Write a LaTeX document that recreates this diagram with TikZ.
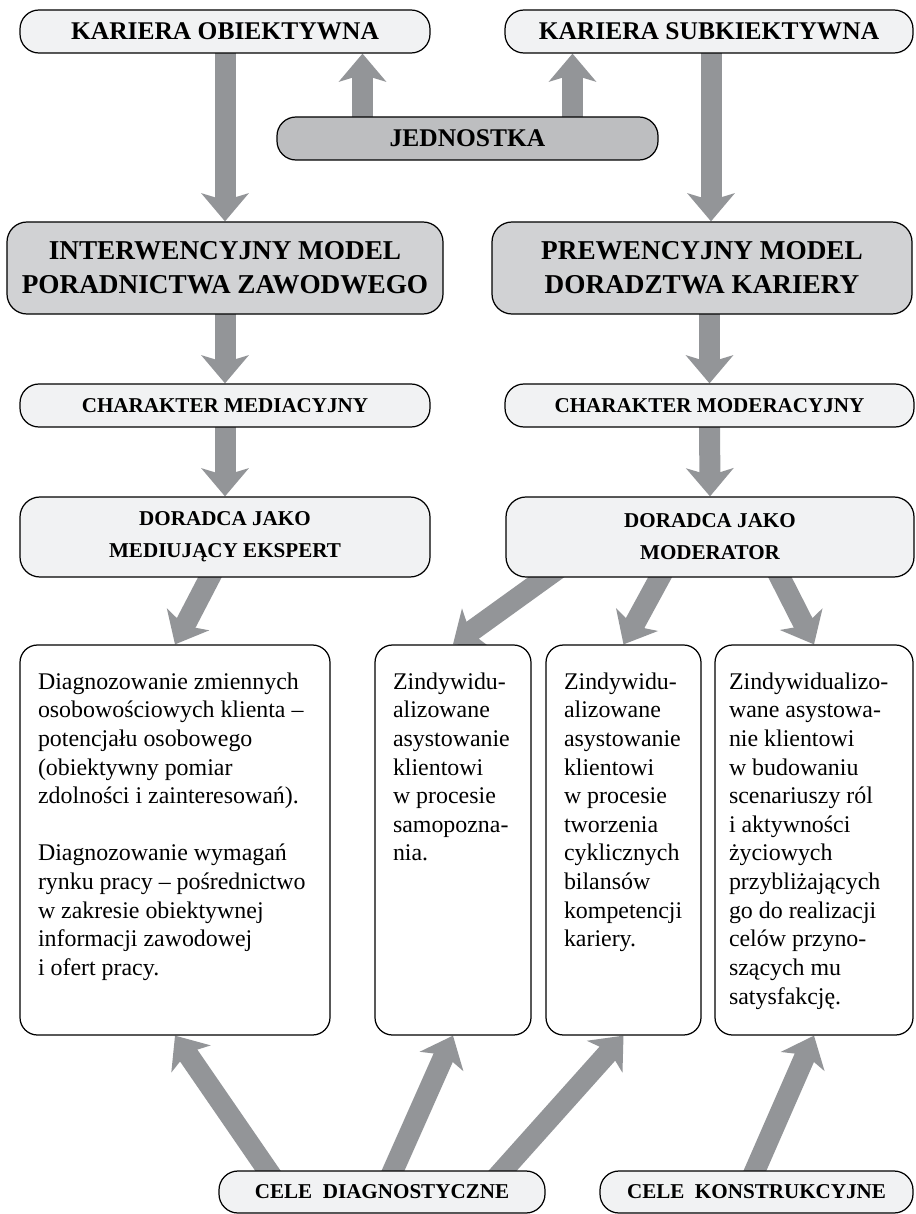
\documentclass[tikz,border=0pt]{standalone}
\usepackage{fontspec}
\setmainfont{Liberation Serif}
\usepackage{xcolor}
\usepackage{tikz}
\usetikzlibrary{positioning, arrows.meta, backgrounds}
\definecolor{arrowgray}{RGB}{147,149,152}
\definecolor{boxlight}{RGB}{241,242,243}
\definecolor{boxmid}{RGB}{209,210,212}
\definecolor{boxdark}{RGB}{189,190,192}

\newcommand{\boxtext}[3]{\parbox[c][#2][t]{#1}{\raggedright #3}}

\begin{document}
\begin{tikzpicture}[
    pill/.style={rectangle, draw=black, line width=0.7pt, fill=boxlight,
                 rounded corners=0.38cm, minimum height=0.86cm, inner sep=0pt,
                 font=\fontsize{14.5}{17}\selectfont\bfseries},
    tag/.style={pill, font=\fontsize{12}{14}\selectfont\bfseries},
    model/.style={rectangle, draw=black, line width=0.7pt, fill=boxmid,
                  rounded corners=0.4cm, minimum height=1.84cm, align=center, inner sep=0pt,
                  font=\fontsize{15.5}{19.3}\selectfont\bfseries},
    role/.style={rectangle, draw=black, line width=0.7pt, fill=boxlight,
                 rounded corners=0.4cm, minimum height=1.6cm, align=center, inner sep=0pt,
                 font=\fontsize{12}{18.1}\selectfont\bfseries},
    textbox/.style={rectangle, draw=black, line width=0.7pt, fill=white,
                    rounded corners=0.35cm, inner xsep=0.36cm, inner ysep=0.55cm,
                    font=\fontsize{13.6}{16.3}\selectfont},
    arrow/.style={-{Stealth[length=5.6mm, width=9.4mm, inset=1.4mm]}, line width=4.2mm, arrowgray}
]
    \useasboundingbox (0,0) rectangle (18.3,-24.28);

    % Careers
    \node[pill, minimum width=8.2cm] (obj) at (4.5,-0.63) {KARIERA OBIEKTYWNA};
    \node[pill, minimum width=8.16cm] (sub) at (14.18,-0.63) {KARIERA SUBKIEKTYWNA};
    \node[pill, fill=boxdark, minimum width=7.62cm] (jed) at (9.35,-2.77) {JEDNOSTKA};

    % Models
    \node[model, minimum width=8.72cm] (inter) at (4.5,-5.36) {INTERWENCYJNY MODEL\\PORADNICTWA ZAWODWEGO};
    \node[model, minimum width=8.4cm] (prew) at (14.04,-5.36) {PREWENCYJNY MODEL\\DORADZTWA KARIERY};

    \node[tag, minimum width=8.2cm] (medc) at (4.5,-8.11) {CHARAKTER MEDIACYJNY};
    \node[tag, minimum width=8.18cm] (modc) at (14.19,-8.11) {CHARAKTER MODERACYJNY};

    \node[role, minimum width=8.2cm] (medd) at (4.5,-10.74) {DORADCA JAKO\\MEDIUJĄCY EKSPERT};
    \node[role, minimum width=8.16cm] (modd) at (14.2,-10.74) {DORADCA JAKO\\MODERATOR};

    % Tasks
    \node[textbox] (task1) at (3.5,-16.8) {\boxtext{5.48cm}{6.7cm}{%
        Diagnozowanie zmiennych\\ osobowościowych klienta --\\ potencjału osobowego\\
        (obiektywny pomiar\\ zdolności i zainteresowań).\\[\baselineskip]
        Diagnozowanie wymagań\\ rynku pracy -- pośrednictwo\\ w zakresie obiektywnej\\
        informacji zawodowej\\ i ofert pracy.}};
    \node[textbox] (task2) at (9.06,-16.8) {\boxtext{2.4cm}{6.7cm}{%
        Zindywidu-\\ alizowane\\ asystowanie\\ klientowi\\ w procesie\\ samopozna-\\ nia.}};
    \node[textbox] (task3) at (12.47,-16.8) {\boxtext{2.38cm}{6.7cm}{%
        Zindywidu-\\ alizowane\\ asystowanie\\ klientowi\\ w procesie\\ tworzenia\\
        cyklicznych\\ bilansów\\ kompetencji\\ kariery.}};
    \node[textbox, inner xsep=0.28cm] (task4) at (16.28,-16.8) {\boxtext{3.4cm}{6.7cm}{%
        Zindywidualizo-\\ wane asystowa-\\ nie klientowi\\ w budowaniu\\ scenariuszy ról\\
        i aktywności\\ życiowych\\ przybliżających\\ go do realizacji\\ celów przyno-\\
        szących mu\\ satysfakcję.}};

    % Goals
    \node[tag, minimum width=6.52cm, minimum height=0.84cm] (diag) at (7.64,-23.84) {CELE~ DIAGNOSTYCZNE};
    \node[tag, minimum width=6.26cm, minimum height=0.84cm] (kons) at (15.13,-23.84) {CELE~ KONSTRUKCYJNE};

    % Connections
    \begin{scope}[on background layer]
        \draw[arrow] ([xshift=-2.1cm, yshift=-0.2cm]jed.north) -- ([xshift=-2.1cm]jed.north |- obj.south);
        \draw[arrow] ([xshift=2.1cm, yshift=-0.2cm]jed.north) -- ([xshift=2.1cm]jed.north |- obj.south);

        \draw[arrow] ([yshift=0.2cm]obj.south) -- (inter.north);
        \draw[arrow] ([xshift=0.04cm, yshift=0.2cm]sub.south) -- ([xshift=0.04cm]sub.south |- prew.north);
        \draw[arrow] ([yshift=0.2cm]inter.south) -- (medc.north);
        \draw[arrow] ([yshift=0.2cm]prew.south -| modc.north) -- (modc.north);
        \draw[arrow] ([yshift=0.2cm]medc.south) -- (medd.north);
        \draw[arrow] ([yshift=0.2cm]modc.south) -- (modd.north);

        \draw[arrow] ([xshift=-0.15cm, yshift=0.3cm]medd.south) -- (task1.north);
        \draw[arrow] ([xshift=-2.87cm, yshift=0.3cm]modd.south) -- (task2.north);
        \draw[arrow] ([xshift=-0.84cm, yshift=0.3cm]modd.south) -- (task3.north);
        \draw[arrow] ([xshift=1.25cm, yshift=0.3cm]modd.south) -- (task4.north);

        \draw[arrow] ([xshift=-2.08cm, yshift=-0.3cm]diag.north) -- (task1.south);
        \draw[arrow] ([xshift=0.09cm, yshift=-0.3cm]diag.north) -- (task2.south);
        \draw[arrow] ([xshift=2.15cm, yshift=-0.3cm]diag.north) -- (task3.south);
        \draw[arrow] ([xshift=-0.16cm, yshift=-0.3cm]kons.north) -- (task4.south);
    \end{scope}
\end{tikzpicture}
\end{document}
